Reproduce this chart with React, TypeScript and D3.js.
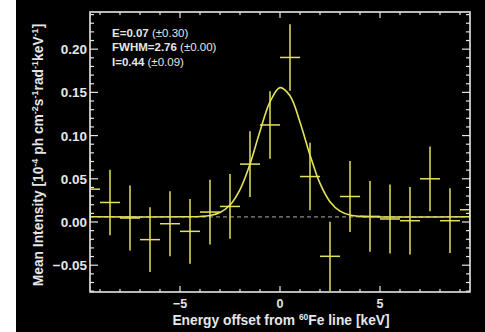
import * as d3 from 'd3';
import { useEffect, useRef } from 'react';

// binned spectrum, 1 keV bins
const energies = [-9.5, -8.5, -7.5, -6.5, -5.5, -4.5, -3.5, -2.5, -1.5, -0.5, 0.5, 1.5, 2.5, 3.5, 4.5, 5.5, 6.5, 7.5, 8.5, 9.5];
const intensities = [0.038, 0.0226, 0.0046, -0.0204, -0.002, -0.0108, 0.0115, 0.018, 0.067, 0.1123, 0.1904, 0.0526, -0.0397, 0.0295, 0.0065, 0.0035, 0.0015, 0.05, 0.0015, 0.0142];
const errors = [0.037, 0.038, 0.0375, 0.0375, 0.0375, 0.0375, 0.0375, 0.0375, 0.038, 0.039, 0.0385, 0.039, 0.04, 0.041, 0.041, 0.04, 0.039, 0.0375, 0.0375, 0.038];
const binHalf = 0.5;

// fitted line profile
const fitX = [-9.5, -4.5, -4, -3.5, -3, -2.5, -2, -1.5, -1, -0.5, 0, 0.5, 1, 1.5, 2, 2.5, 3, 3.5, 4, 4.5, 9.5];
const fitY = [0.006, 0.006, 0.0064, 0.0075, 0.011, 0.0196, 0.0375, 0.067, 0.105, 0.139, 0.1555, 0.146, 0.1155, 0.0775, 0.0447, 0.0235, 0.0126, 0.0081, 0.0065, 0.006, 0.006];
const continuum = 0.006;

const xTicks = [-5, 0, 5];
const yTicks = [-0.05, 0, 0.05, 0.1, 0.15, 0.2];

const fitLabels = [
  { name: 'E=0.07', err: '(±0.30)' },
  { name: 'FWHM=2.76', err: '(±0.00)' },
  { name: 'I=0.44', err: '(±0.09)' },
];

const W = 485;
const H = 332;
const YELLOW = '#e4e25c';
const FG = '#e6e6e6';
const FONT = '"Liberation Sans", Arial, sans-serif';

export default function App() {
  const ref = useRef<SVGSVGElement | null>(null);

  useEffect(() => {
    const svg = d3.select(ref.current);
    svg.selectAll('*').remove();

    const margin = { top: 12, right: 14, bottom: 40, left: 90 };
    const innerW = 470 - margin.left;
    const innerH = 292 - margin.top;

    svg.append('rect').attr('x', 16).attr('y', 0).attr('width', W - 16).attr('height', H).attr('fill', '#000');

    const x = d3.scaleLinear().domain([-9.5, 9.5]).range([0, innerW]);
    const y = d3.scaleLinear().domain([-0.081, 0.243]).range([innerH, 0]);

    const g = svg.append('g').attr('transform', `translate(${margin.left},${margin.top})`);

    svg.append('defs').append('clipPath').attr('id', 'plot-clip')
      .append('rect').attr('width', innerW).attr('height', innerH);

    const plot = g.append('g').attr('clip-path', 'url(#plot-clip)');

    // continuum level
    plot.append('line')
      .attr('x1', 0).attr('x2', innerW)
      .attr('y1', y(continuum)).attr('y2', y(continuum))
      .attr('stroke', '#8a8a8a').attr('stroke-width', 1.2).attr('stroke-dasharray', '4,3');

    const line = d3.line<number>()
      .x((_, i) => x(fitX[i]))
      .y((d) => y(d))
      .curve(d3.curveCatmullRom);
    plot.append('path').datum(fitY).attr('d', line).attr('fill', 'none').attr('stroke', YELLOW).attr('stroke-width', 1.6);

    const pts = energies.map((e, i) => ({ e, v: intensities[i], s: errors[i] }));
    plot.selectAll('line.h').data(pts).enter().append('line').attr('class', 'h')
      .attr('x1', (d) => x(d.e - binHalf)).attr('x2', (d) => x(d.e + binHalf))
      .attr('y1', (d) => y(d.v)).attr('y2', (d) => y(d.v))
      .attr('stroke', YELLOW).attr('stroke-width', 1.5);
    plot.selectAll('line.v').data(pts).enter().append('line').attr('class', 'v')
      .attr('x1', (d) => x(d.e)).attr('x2', (d) => x(d.e))
      .attr('y1', (d) => y(d.v - d.s)).attr('y2', (d) => y(d.v + d.s))
      .attr('stroke', YELLOW).attr('stroke-width', 1.5);

    // ticks on all four sides
    const axes = g.append('g').attr('stroke', FG).attr('stroke-width', 1.2);
    const xMinor = d3.range(-9, 10, 1);
    xMinor.forEach((t) => {
      const len = xTicks.includes(t) ? 6 : 3;
      axes.append('line').attr('x1', x(t)).attr('x2', x(t)).attr('y1', innerH).attr('y2', innerH - len);
      axes.append('line').attr('x1', x(t)).attr('x2', x(t)).attr('y1', 0).attr('y2', len);
    });
    const yMinor = d3.range(-8, 25, 1).map((k) => k / 100);
    yMinor.forEach((t) => {
      const major = yTicks.some((m) => Math.abs(m - t) < 1e-9);
      const len = major ? 8 : 4;
      axes.append('line').attr('x1', 0).attr('x2', len).attr('y1', y(t)).attr('y2', y(t));
      axes.append('line').attr('x1', innerW).attr('x2', innerW - len).attr('y1', y(t)).attr('y2', y(t));
    });
    axes.append('rect').attr('width', innerW).attr('height', innerH).attr('fill', 'none').attr('stroke-width', 1.6);

    const labels = g.append('g').attr('fill', FG).attr('font-family', FONT).attr('font-weight', 'bold');
    labels.selectAll('text.xt').data(xTicks).enter().append('text')
      .attr('font-size', 12.5)
      .attr('x', (d) => x(d)).attr('y', innerH + 16).attr('text-anchor', 'middle').text((d) => d3.format('d')(d));
    labels.selectAll('text.yt').data(yTicks).enter().append('text')
      .attr('font-size', 13.5)
      .attr('x', -3).attr('y', (d) => y(d) + 5).attr('text-anchor', 'end').text((d) => d3.format('.2f')(d));

    // axis titles
    const xt = svg.append('text').attr('x', 281).attr('y', 325).attr('text-anchor', 'middle')
      .attr('fill', FG).attr('font-family', FONT).attr('font-weight', 'bold').attr('font-size', 13.8);
    xt.append('tspan').text('Energy offset from ');
    xt.append('tspan').attr('font-size', 8.5).attr('dy', -5).text('60');
    xt.append('tspan').attr('dy', 5).text('Fe line [keV]');

    const yt = svg.append('text').attr('transform', 'translate(43,155) rotate(-90)').attr('text-anchor', 'middle')
      .attr('fill', FG).attr('font-family', FONT).attr('font-weight', 'bold').attr('font-size', 13.8);
    const parts: [string, string][] = [
      ['Mean Intensity [10', '-4'],
      [' ph cm', '-2'],
      ['s', '-1'],
      ['rad', '-1'],
      ['keV', '-1'],
    ];
    parts.forEach(([base, sup], i) => {
      yt.append('tspan').attr('dy', i === 0 ? 0 : 5).text(base);
      yt.append('tspan').attr('dy', -5).attr('font-size', 9).text(sup);
    });
    yt.append('tspan').attr('dy', 5).text(']');

    // fit parameters
    const ann = svg.append('g').attr('fill', FG).attr('font-family', FONT).attr('font-size', 11.5);
    fitLabels.forEach((f, i) => {
      const t = ann.append('text').attr('x', 112).attr('y', 37 + i * 14.3);
      t.append('tspan').attr('font-weight', 'bold').text(f.name + ' ');
      t.append('tspan').text(f.err);
    });
  }, []);

  return (
    <svg
      ref={ref}
      width={W}
      height={H}
      style={{ position: 'absolute', left: 0, top: 0, background: '#fff' }}
    />
  );
}
